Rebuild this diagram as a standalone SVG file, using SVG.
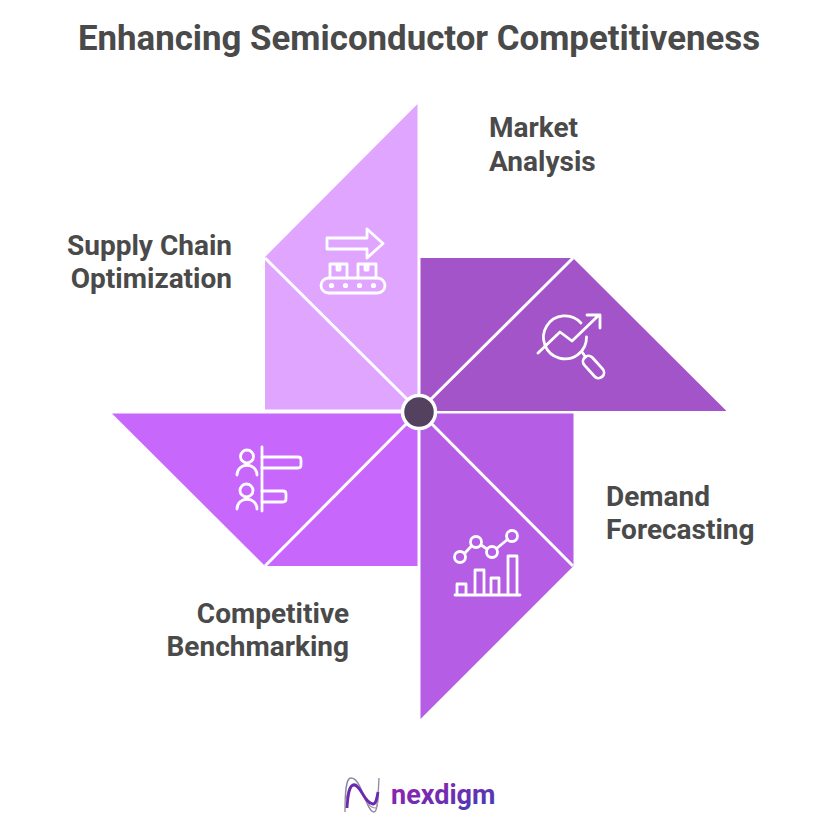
<svg xmlns="http://www.w3.org/2000/svg" width="838" height="829" viewBox="0 0 838 829">
<defs>
<linearGradient id="lg" x1="0" y1="0" x2="1" y2="1"><stop offset="0" stop-color="#a21caf"/><stop offset="1" stop-color="#3f3fb5"/></linearGradient>
</defs>
<style>
text{font-family:Roboto,"Liberation Sans",sans-serif;font-weight:700;fill:#4a4a4a}
.t{font-size:34.85px}
.l{font-size:28px}
.ic{fill:none;stroke:#fff;stroke-width:2.8;stroke-linecap:round;stroke-linejoin:round}
.d{stroke:#fff;stroke-width:3;fill:none}
</style>
<rect width="838" height="829" fill="#fff"/>
<text class="t" x="419" y="49.500" text-anchor="middle">Enhancing Semiconductor Competitiveness</text>
<g id="supply-chain">
<polygon points="417.500,104 417.500,409.500 265,409.500 265,257" fill="#e0a6ff"/>
<g class="ic">
<path d="M327 238H367V229L383 243.500L367 258V249H327Z"/>
<path d="M330 278V264H347V278M358 278V264H376V278M337 264V270H340V264M365 264V270H368V264"/>
<rect x="321" y="278" width="64" height="15" rx="7.500"/>
<circle cx="331.500" cy="285.500" r="1.200"/><circle cx="345.500" cy="285.500" r="1.200"/><circle cx="359.500" cy="285.500" r="1.200"/><circle cx="373.500" cy="285.500" r="1.200"/>
</g>
<text class="l" x="232" y="254.500" text-anchor="end">Supply Chain</text>
<text class="l" x="232" y="287.500" text-anchor="end">Optimization</text>
</g>
<g id="market-analysis">
<polygon points="420.500,258 573,258 726.500,411 420.500,411" fill="#a354c9"/>
<g class="ic">
<path d="M586.500 337A21.500 21.500 0 1 1 581 323"/>
<path d="M538 353L560 332L572 341L599 315M587 315H600V328"/>
<path d="M582 352L585.500 357"/>
<rect x="-5.500" y="-13" width="11" height="26" rx="5.500" transform="translate(593.500 367) rotate(-42)"/>
</g>
<text class="l" x="489" y="136.500">Market</text>
<text class="l" x="489" y="170.500">Analysis</text>
</g>
<g id="demand-forecasting">
<polygon points="420.500,413.500 573.500,413.500 573.500,566 420.500,719" fill="#b65de6"/>
<g class="ic">
<circle cx="460" cy="557" r="5.500"/><circle cx="476" cy="542" r="5.500"/><circle cx="492" cy="552" r="5.500"/><circle cx="512" cy="536" r="5.500"/>
<path d="M464.500 553.500L471.500 546M481 545L487 549M496.500 548.500L507.500 539.500"/>
<path d="M455 595H520M457 595V584H466V595M475 595V570H484V595M491 595V578H499V595M508 595V556H517V595"/>
</g>
<text class="l" x="606" y="505.500">Demand</text>
<text class="l" x="606" y="538.500">Forecasting</text>
</g>
<g id="competitive-benchmarking">
<polygon points="112,413.500 417.500,413.500 417.500,566 265,566" fill="#c767fb"/>
<g class="ic">
<path d="M262 447V511"/>
<path d="M262 457H298Q301 457 301 460V465Q301 468 298 468H262M262 491H283Q286 491 286 494V499Q286 502 283 502H262"/>
<circle cx="247" cy="456.500" r="6.500"/><circle cx="246.500" cy="490.500" r="6.500"/>
<path d="M237 475C237 462 257 462 257 475M237 509C237 496 257 496 257 509"/>
</g>
<text class="l" x="349" y="622.500" text-anchor="end">Competitive</text>
<text class="l" x="349" y="655.500" text-anchor="end">Benchmarking</text>
</g>
<g id="connectors">
<path class="d" d="M265 258L419 411M573 258L419 411M573 566L419 411M265 566L419 411"/>
</g>
<g id="hub"><circle cx="419" cy="412" r="16.500" fill="#54405f" stroke="#fff" stroke-width="3.500"/></g>
<g id="logo" fill="none">
<path d="M345 812C345 790 346 778 351 778C362 778 366 812 374 812C378 812 378 795 379 778" stroke="#8f86a0" stroke-width="1.300"/>
<path d="M346 800C348 786 352 782 356 784C363 788 366 808 375 808C378 808 378 800 378.500 790" stroke="#a49ab2" stroke-width="1.200"/>
<path d="M347 808C348 792 350 785 354 785C361 785 364 803 373 804C376 804 377 798 378 792" stroke="#6d28b0" stroke-width="2.800"/>
<text x="391" y="804" style="font-size:27px;fill:url(#lg);font-family:Roboto,'Liberation Sans',sans-serif;font-weight:700">nexdigm</text>
</g>
</svg>
